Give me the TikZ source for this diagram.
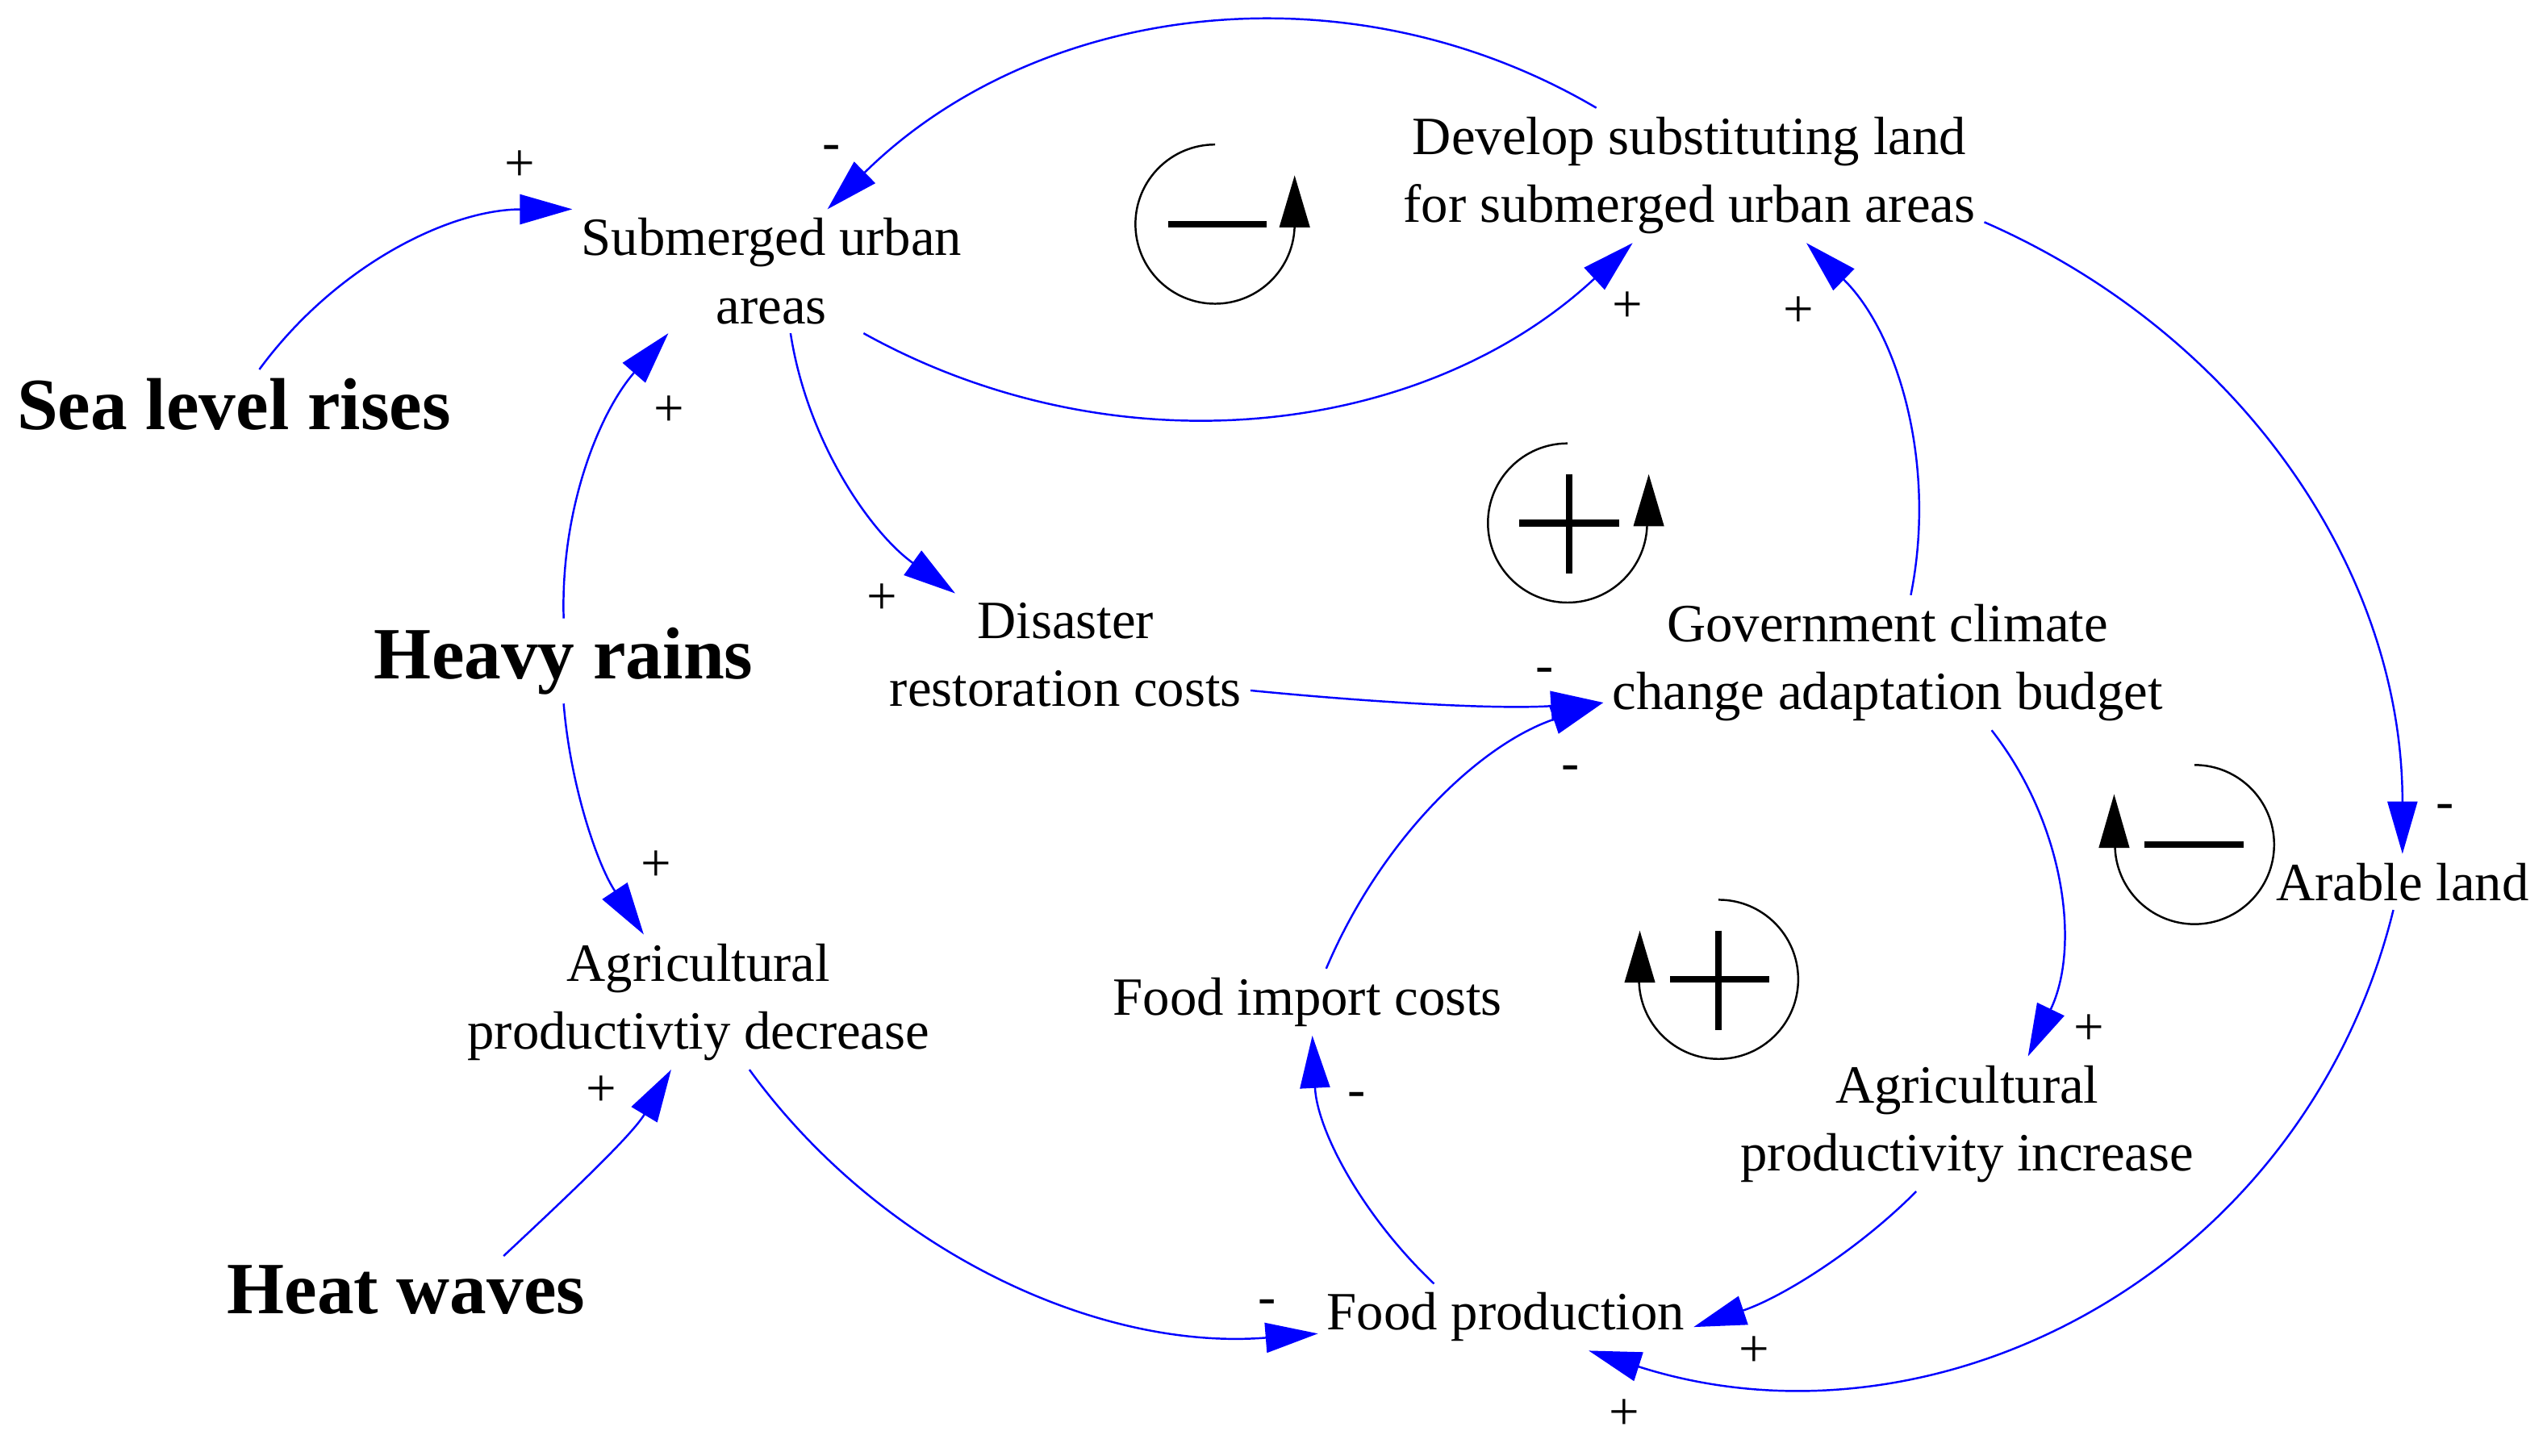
\documentclass[tikz,border=0pt]{standalone}
\usepackage{fontspec}
\setmainfont{Liberation Serif}
\usetikzlibrary{arrows.meta}
\begin{document}
\begin{tikzpicture}[x=0.020134cm, y=-0.020134cm,
  lbl/.style={font=\fontsize{19}{24}\selectfont, align=center, inner sep=3pt},
  ext/.style={font=\fontsize{26}{30}\selectfont\bfseries, inner sep=3pt},
  pol/.style={font=\fontsize{19}{24}\selectfont, inner sep=0pt},
  link/.style={draw=blue, line width=0.7pt, -{Triangle[length=0.65cm,width=0.37cm]}},
  loopc/.style={draw=black, line width=0.7pt},
  loopbar/.style={draw=black, line width=2.4pt},
  looptip/.style={fill=black}]
\useasboundingbox (0,0) rectangle (1568,896);
\fill[white] (0,0) rectangle (1568,896);

% variables
\node[lbl] (sub) at (475,167) {Submerged urban\\areas};
\node[lbl] (dev) at (1040,108) {Develop substituting land\\for submerged urban areas};
\node[ext] (sea) at (144,249) {Sea level rises};
\node[ext] (heavy) at (347,407) {Heavy rains};
\node[lbl] (dis) at (656,403) {Disaster\\restoration costs};
\node[lbl] (gov) at (1162,408) {Government climate\\change adaptation budget};
\node[lbl] (arable) at (1479,543) {Arable land};
\node[lbl] (agd) at (430,617) {Agricultural\\productivtiy decrease};
\node[lbl] (fic) at (805,617) {Food import costs};
\node[lbl] (agi) at (1211,692) {Agricultural\\productivity increase};
\node[ext] (heat) at (250,794) {Heat waves};
\node[lbl] (food) at (927,811) {Food production};

% loop symbols
\draw[loopc] (797,138) arc[start angle=0,end angle=-270,radius=0.987cm];
\fill[looptip] (787.5,140) -- (806.5,140) -- (797,108) -- cycle;
\draw[loopbar] (719,138) -- (780,138);

\draw[loopc] (1014,322) arc[start angle=0,end angle=-270,radius=0.987cm];
\fill[looptip] (1005.5,324) -- (1024.5,324) -- (1015,292) -- cycle;
\draw[loopbar] (935,322) -- (997,322);
\draw[loopbar] (966,292) -- (966,353);

\draw[loopc] (1009,603) arc[start angle=180,end angle=450,radius=0.987cm];
\fill[looptip] (1000,605) -- (1019,605) -- (1009.5,573) -- cycle;
\draw[loopbar] (1028,603) -- (1089,603);
\draw[loopbar] (1058,573) -- (1058,634);

\draw[loopc] (1302,520) arc[start angle=180,end angle=450,radius=0.987cm];
\fill[looptip] (1292,522) -- (1311,522) -- (1301.5,489) -- cycle;
\draw[loopbar] (1320,520) -- (1381,520);

% links
\draw[link] (sea.54) .. controls (207,163) and (277,129) .. (sub.north west);
\draw[link] (dev.144) .. controls (829,-24) and (638,2) .. (sub.48);
\draw[link] (sub.-34) .. controls (688,292) and (877,269) .. (dev.-130);
\draw[link] (heavy.north) .. controls (345,313) and (369,254) .. (sub.-149);
\draw[link] (sub.-73) .. controls (497,272) and (536,328) .. (dis.151);
\draw[link] (dis.-11) .. controls (840,432) and (920,437) .. (gov.188);
\draw[link] (fic.61) .. controls (851,515) and (912,458) .. (gov.188);
\draw[link] (gov.71) .. controls (1192.5,286) and (1168.6,205) .. (dev.-30);
\draw[link] (dev.-9.5) .. controls (1380,206) and (1479,352) .. (arable.north);
\draw[link] (gov.-33) .. controls (1271,507) and (1281,583) .. (agi.48);
\draw[link] (heavy.south) .. controls (351,483) and (367.5,532) .. (agd.129);
\draw[link] (heat.19) .. controls (351,735) and (389,699) .. (agd.-112);
\draw[link] (agd.-53) .. controls (541.5,769) and (674.7,832) .. (food.185);
\draw[link] (food.155) .. controls (838.8,748.6) and (810.9,696.4) .. (fic.-82);
\draw[link] (agi.-127) .. controls (1143.5,770) and (1096.6,799) .. (food.-3);
\draw[link] (arable.-108) .. controls (1418,784) and (1191.5,900) .. (food.-22);

% polarities
\node[pol] (p1) at (320,102) {+};
\node[pol] (p2) at (512,94) {-};
\node[pol] (p3) at (1002,189) {+};
\node[pol] (p4) at (412,253) {+};
\node[pol] (p5) at (543,369) {+};
\node[pol] (p6) at (951,416) {-};
\node[pol] (p7) at (967,476) {-};
\node[pol] (p8) at (1107,192) {+};
\node[pol] (p9) at (1505,500) {-};
\node[pol] (p10) at (1286,634) {+};
\node[pol] (p11) at (404,533) {+};
\node[pol] (p12) at (370,672) {+};
\node[pol] (p13) at (780,805) {-};
\node[pol] (p14) at (835,677) {-};
\node[pol] (p15) at (1080,832) {+};
\node[pol] (p16) at (1000,871) {+};
\end{tikzpicture}
\end{document}
